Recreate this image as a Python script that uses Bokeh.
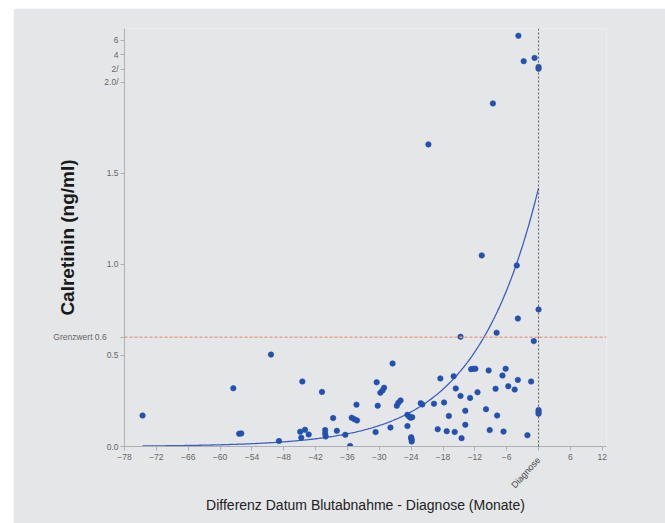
import numpy as np
from bokeh.plotting import figure
from bokeh.models import (Range1d, FixedTicker, Span, ColumnDataSource, Spacer, LinearAxis)
from bokeh.layouts import row, column
from bokeh.embed import file_html
from bokeh.resources import INLINE

# ---- data (months before diagnosis, Calretinin ng/ml) ----
months_low = [-74.6, -57.5, -56.4, -56.0, -50.4, -48.9,
              -44.5, -44.9, -44.0, -43.3, -44.7,
              -40.8, -40.2, -40.2, -40.1, -38.7, -38.0, -36.4, -35.5,
              -35.2, -34.7, -34.2, -34.3,
              -30.7, -30.5, -30.3, -29.8, -29.4, -29.1, -27.5, -27.9,
              -26.7, -26.4, -26.0, -24.7, -24.7, -24.4, -24.1, -23.8,
              -24.0, -23.9, -23.9, -24.0, -22.2, -21.9, -20.75,
              -19.7, -19.0, -18.5, -17.8, -17.3, -16.9, -16.0, -15.8, -15.6,
              -14.7, -14.7, -14.5, -13.8, -13.8, -12.9, -12.7, -12.3, -11.9,
              -11.5, -10.7, -9.9, -9.4, -9.2, -8.6, -8.1, -7.9, -7.8,
              -6.8, -6.6, -6.2, -5.7, -4.5, -4.1, -3.9, -3.9, -2.1, -1.4, -0.9,
              0.0, 0.0, 0.0, 0.0]
calretinin_low = [0.17, 0.32, 0.07, 0.072, 0.505, 0.03,
                  0.357, 0.081, 0.092, 0.066, 0.048,
                  0.30, 0.09, 0.07, 0.055, 0.156, 0.086, 0.064, 0.003,
                  0.158, 0.15, 0.143, 0.23,
                  0.079, 0.353, 0.224, 0.295, 0.308, 0.323, 0.456, 0.104,
                  0.224, 0.24, 0.253, 0.112, 0.174, 0.165, 0.158, 0.161,
                  0.051, 0.037, 0.027, 0.045, 0.238, 0.231, 1.66,
                  0.235, 0.095, 0.374, 0.242, 0.084, 0.168, 0.386, 0.08, 0.319,
                  0.603, 0.278, 0.046, 0.196, 0.119, 0.267, 0.425, 0.427, 0.427,
                  0.298, 1.05, 0.205, 0.418, 0.09, 1.885, 0.317, 0.625, 0.17,
                  0.39, 0.082, 0.427, 0.331, 0.313, 0.995, 0.703, 0.366, 0.062, 0.357, 0.579,
                  0.753, 0.2, 0.19, 0.18]

# values above the axis break (compressed upper segment)
months_high = [-3.8, -2.8, -0.75, 0.0, 0.0]
calretinin_high = [6.65, 3.15, 3.6, 2.35, 2.1]

# exponential trend line (parameters)
trend_start = -74.6
trend_a = 1.42
trend_b = 0.0837

cutoff = 0.6
cutoff_label = "Grenzwert 0.6"

x_ticks = [-78, -72, -66, -60, -54, -48, -42, -36, -30, -24, -18, -12, -6, 0, 6, 12]
y_ticks_low = [0, 0.5, 1, 1.5, 2]
y_labels_low = ["0.0", "0.5", "1.0", "1.5", "2.0/"]
y_ticks_high = [2, 4, 6]
y_labels_high = ["2/", "4", "6"]

x_title = "Differenz Datum Blutabnahme - Diagnose (Monate)"
y_title = "Calretinin (ng/ml)"
diag_label = "Diagnose"

# ---- figure ----
BG = "#e5e6e8"
low_range = Range1d(0, 2.2967)
high_range = Range1d(-50.0, 7.655)

p = figure(width=652, height=515, output_backend="svg", toolbar_location=None,
           x_range=Range1d(-78, 12.8), y_range=low_range, x_axis_location=None,
           min_border_left=111, min_border_right=59, min_border_top=20, min_border_bottom=77,
           background_fill_color=BG, border_fill_color=BG, outline_line_color=None)
p.extra_y_ranges = {"upper": high_range}
p.grid.visible = False

def to_low(v):
    f = (v - high_range.start) / (high_range.end - high_range.start)
    return round(low_range.start + f * (low_range.end - low_range.start), 5)

# x axis with numeric ticks
xa = LinearAxis(ticker=FixedTicker(ticks=x_ticks), major_label_overrides={0: ""})
# second x axis carrying the rotated "Diagnose" label and the axis title
xb = LinearAxis(ticker=FixedTicker(ticks=[0]), major_label_overrides={0: diag_label},
                major_label_orientation=np.deg2rad(48), axis_line_color=None,
                major_tick_line_color=None, major_tick_out=0, major_label_standoff=-4,
                major_label_text_font="Liberation Sans", major_label_text_font_size="9px",
                major_label_text_color="#444444")
p.add_layout(xa, "below")
p.add_layout(xb, "below")

# y axis: lower segment, cutoff label, compressed upper segment
pad = "\u00a0" * 5
yt = list(y_ticks_low) + [cutoff] + [to_low(v) for v in y_ticks_high]
yl = list(y_labels_low) + [cutoff_label + pad] + list(y_labels_high)
p.yaxis.ticker = FixedTicker(ticks=yt)
p.yaxis.major_label_overrides = {t: l for t, l in zip(yt, yl)}

for ax in (xa, p.yaxis[0]):
    ax.axis_line_color = "#aeb0b3"
    ax.major_tick_line_color = "#aeb0b3"
    ax.major_tick_out = 4
    ax.major_tick_in = 0
    ax.minor_tick_line_color = None
    ax.major_label_text_font = "Liberation Sans"
    ax.major_label_text_font_size = "8.5px"
    ax.major_label_text_color = "#666666"
xb.minor_tick_line_color = None

xa.major_label_standoff = 3
p.yaxis.major_label_standoff = 2

xb.axis_label = x_title
xb.axis_label_text_font = "Liberation Sans"
xb.axis_label_text_font_size = "14px"
xb.axis_label_text_font_style = "normal"
xb.axis_label_text_color = "#222222"
xb.axis_label_standoff = 1

p.yaxis.axis_label = y_title
p.yaxis.axis_label_text_font = "Liberation Sans"
p.yaxis.axis_label_text_font_size = "19px"
p.yaxis.axis_label_text_font_style = "bold"
p.yaxis.axis_label_text_color = "#1a1a1a"
p.yaxis.axis_label_standoff = -28

# reference lines
p.add_layout(Span(location=cutoff, dimension="width", line_color="#e9a08c",
                  line_dash="3 2", line_width=1.6))
p.add_layout(Span(location=0, dimension="height", line_color="#5a5a5a",
                  line_dash="2 2", line_width=1))

# trend curve
tx = np.linspace(trend_start, 0, 300)
ty = trend_a * np.exp(trend_b * tx)
p.line(tx, ty, line_color="#3d5fc2", line_width=1.3)

# points
PT = "#2251b0"
p.scatter(x="m", y="v", source=ColumnDataSource(dict(m=months_low, v=calretinin_low)),
          size=5.5, fill_color=PT, line_color=PT, line_alpha=0.6)
p.scatter(x="m", y="v", source=ColumnDataSource(dict(m=months_high, v=calretinin_high)),
          y_range_name="upper", size=5.5, fill_color=PT, line_color=PT, line_alpha=0.6)

layout = column(Spacer(width=665, height=8), row(Spacer(width=13, height=515), p))
open("out.html", "w").write(file_html(layout, INLINE))
